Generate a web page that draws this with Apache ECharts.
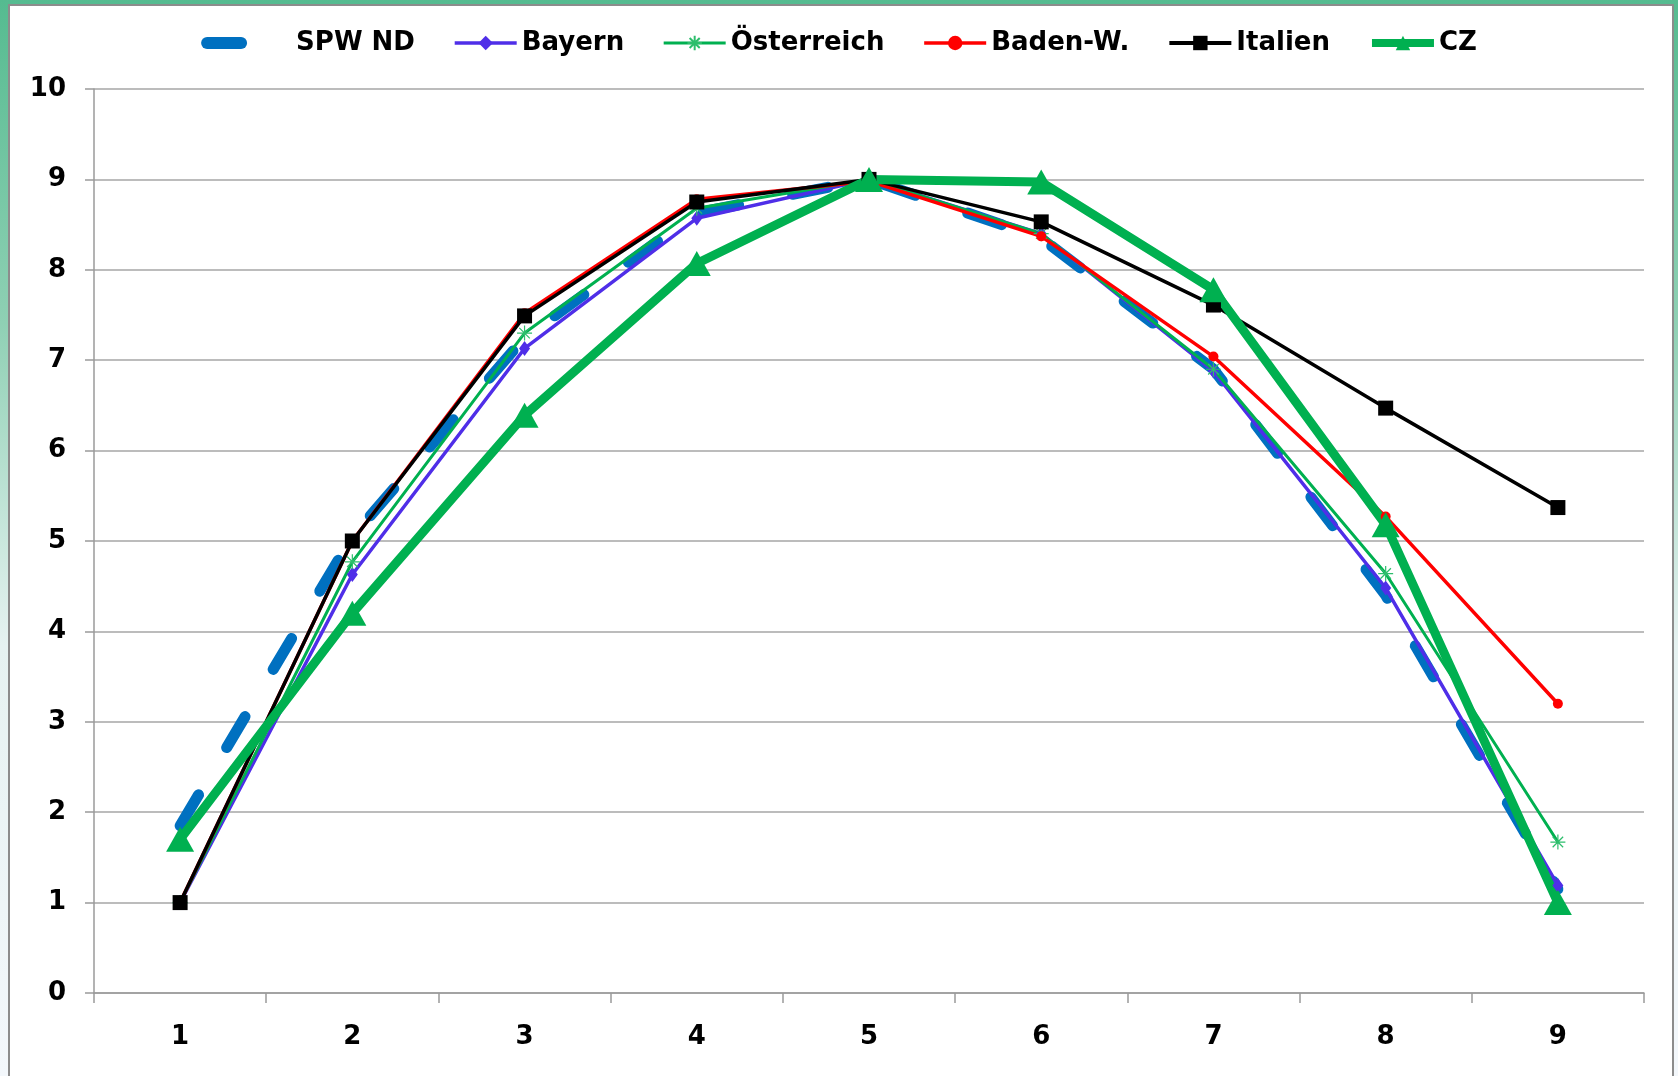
<!DOCTYPE html>
<html>
<head>
    <meta charset="utf-8">
    <title>Kurven</title>
    <script type="text/javascript" src="https://cdn.jsdelivr.net/npm/echarts@6.0.0/dist/echarts.min.js"></script>
    <style>
        html, body { margin: 0; padding: 0; width: 1678px; height: 1076px; overflow: hidden; }
        body { background: linear-gradient(180deg, #55bb90 0%, #8fd0b4 30%, #e6f2f1 60%, #f3f7fb 100%); }
        #panel { position: absolute; left: 8px; top: 4px; width: 1662px; height: 1100px; background: #fff; border: 2px solid #8c8c8c; }
        #main { position: absolute; left: 0; top: 0; width: 1678px; height: 1076px; }
    </style>
</head>
<body>
<div id="panel"></div>
<div id="main"></div>
<script type="text/javascript">
    // Werte
    var categories = ['1', '2', '3', '4', '5', '6', '7', '8', '9'];
    var spwNd = [1.85, 5.05, 7.25, 8.63, 9.0, 8.35, 6.9, 4.4, 1.15];
    var bayern = [1.0, 4.63, 7.13, 8.57, 9.0, 8.4, 6.88, 4.48, 1.19];
    var oesterreich = [1.0, 4.77, 7.3, 8.68, 9.0, 8.4, 6.9, 4.64, 1.67];
    var badenW = [1.0, 5.0, 7.52, 8.78, 8.98, 8.37, 7.04, 5.27, 3.2];
    var italien = [1.0, 5.0, 7.49, 8.75, 9.0, 8.53, 7.61, 6.47, 5.37];
    var cz = [1.7, 4.2, 6.39, 8.07, 9.0, 8.97, 7.78, 5.18, 1.0];
    var yTicks = { min: 0, max: 10, interval: 1 };

    var font = 'DejaVu Sans, Verdana, sans-serif';
    var asterisk = 'path://M0,5 L10,5 M5,0 L5,10 M1.5,1.5 L8.5,8.5 M8.5,1.5 L1.5,8.5';

    var myChart = echarts.init(document.getElementById('main'));

    var option = {
        animation: false,
        backgroundColor: 'transparent',
        legend: {
            top: 25,
            left: 'center',
            itemWidth: 62,
            itemHeight: 18,
            itemGap: 38,
            textStyle: { fontFamily: font, fontSize: 26, fontWeight: 'bold', color: '#000' },
            data: [
                // Legendensymbole wie im Original (dicke Linien, kein Marker bei SPW ND)
                { name: 'SPW ND', itemStyle: { opacity: 0 },
                  lineStyle: { color: '#0070C0', width: 12, type: [34, 100], cap: 'round' },
                  textStyle: { padding: [0, 0, 0, 22] } },
                { name: 'Bayern', lineStyle: { color: '#4F2EE8', width: 3.5 } },
                { name: 'Österreich', lineStyle: { color: '#00B050', width: 3 } },
                { name: 'Baden-W.', lineStyle: { color: '#FF0000', width: 3.5 } },
                { name: 'Italien', lineStyle: { color: '#000000', width: 4 } },
                { name: 'CZ', lineStyle: { color: '#00B050', width: 8 } }
            ]
        },
        grid: { left: 94, right: 34, top: 89, bottom: 83 },
        xAxis: {
            type: 'category',
            data: categories,
            boundaryGap: true,
            axisLine: { lineStyle: { color: '#9a9a9a', width: 1.5 } },
            axisTick: { show: true, length: 10, lineStyle: { color: '#9a9a9a', width: 1.5 } },
            axisLabel: { margin: 31, fontFamily: font, fontSize: 26, fontWeight: 'bold', color: '#000' }
        },
        yAxis: {
            type: 'value',
            min: yTicks.min,
            max: yTicks.max,
            interval: yTicks.interval,
            axisLine: { show: true, lineStyle: { color: '#9a9a9a', width: 1.5 } },
            axisTick: { show: true, length: 9, lineStyle: { color: '#9a9a9a', width: 1.5 } },
            splitLine: { lineStyle: { color: '#a6a6a6', width: 1.5 } },
            axisLabel: { margin: 28, fontFamily: font, fontSize: 26, fontWeight: 'bold', color: '#000' }
        },
        series: [
            {
                name: 'SPW ND', type: 'line', data: spwNd,
                symbol: 'none',
                itemStyle: { color: '#0070C0' },
                lineStyle: { color: '#0070C0', width: 11, type: [36, 55], cap: 'round', join: 'round' }
            },
            {
                name: 'Bayern', type: 'line', data: bayern,
                symbol: 'diamond', symbolSize: [11, 15],
                itemStyle: { color: '#4F2EE8' },
                lineStyle: { color: '#4F2EE8', width: 3.5 }
            },
            {
                name: 'Österreich', type: 'line', data: oesterreich,
                symbol: asterisk, symbolSize: 15,
                itemStyle: { color: '#2DBE6C', borderColor: '#2DBE6C', borderWidth: 1.2 },
                lineStyle: { color: '#00B050', width: 3 }
            },
            {
                name: 'Baden-W.', type: 'line', data: badenW,
                symbol: 'circle', symbolSize: 10,
                itemStyle: { color: '#FF0000' },
                lineStyle: { color: '#FF0000', width: 3.5 }
            },
            {
                name: 'Italien', type: 'line', data: italien,
                symbol: 'rect', symbolSize: 15,
                itemStyle: { color: '#000000' },
                lineStyle: { color: '#000000', width: 3.5 }
            },
            {
                name: 'CZ', type: 'line', data: cz,
                symbol: 'triangle', symbolSize: [28, 25],
                itemStyle: { color: '#00B050' },
                lineStyle: { color: '#00B050', width: 9 }
            }
        ]
    };

    myChart.setOption(option);
</script>
</body>
</html>
